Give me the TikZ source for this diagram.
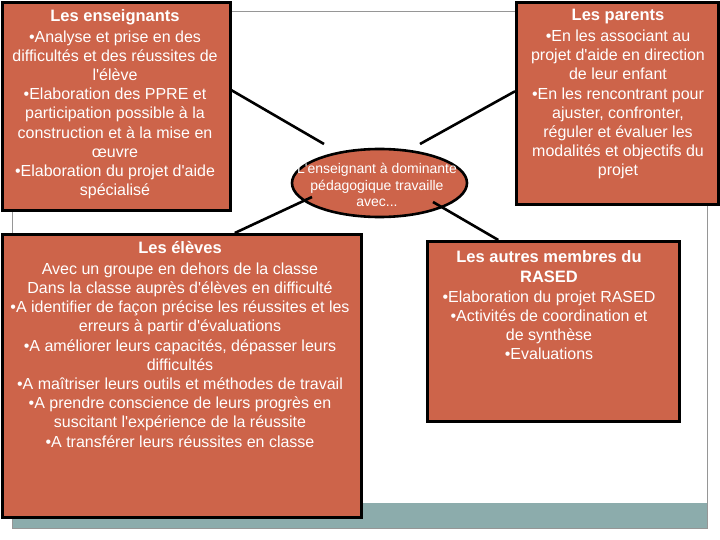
\documentclass[tikz,border=0pt]{standalone}
\usepackage{fontspec}
\setmainfont{Liberation Sans}
\usetikzlibrary{shapes.geometric}
\definecolor{boxred}{RGB}{205,100,74}
\definecolor{barteal}{RGB}{140,172,172}
\definecolor{framegray}{RGB}{150,150,150}
\newcommand{\boxtitle}[1]{{\fontsize{16.5}{19.2}\selectfont\bfseries #1}}
\begin{document}
\begin{tikzpicture}[x=1pt,y=-1pt,
  redbox/.style={draw=black, line width=2.6pt, fill=boxred, inner sep=0pt, anchor=north west},
  boxtext/.style={text=white, align=center, inner sep=0pt, anchor=north, font=\fontsize{16}{19.2}\selectfont},
  elltext/.style={text=white, align=center, inner sep=0pt, font=\fontsize{14}{16.5}\selectfont},
  link/.style={draw=black, line width=2.6pt}]
\useasboundingbox (0,0) rectangle (720,540);
\fill[white] (0,0) rectangle (720,540);
\fill[barteal] (12,503) rectangle (707,528);
\draw[framegray, line width=1pt] (12,12) rectangle (707,528);
% boxes
\node[redbox, minimum width=228pt, minimum height=208pt] (ens) at (1,1) {};
\node[redbox, minimum width=202pt, minimum height=202pt] (par) at (515,1) {};
\node[redbox, minimum width=359pt, minimum height=283pt] (eleves) at (1,233) {};
\node[redbox, minimum width=252pt, minimum height=180pt] (rased) at (426,240) {};
\node[ellipse, draw=black, line width=2.6pt, fill=boxred, inner sep=0pt, minimum width=175pt, minimum height=68pt] (ell) at (379.5,183) {};
% connectors
\coordinate (e1) at (324,144);
\coordinate (e2) at (420,144);
\coordinate (e3) at (312,197);
\coordinate (e4) at (433,202);
\draw[link] ([yshift=16pt]ens.east) -- (e1);
\draw[link] (e2) -- ([yshift=12pt]par.west);
\draw[link] (e3) -- ([xshift=53pt]eleves.north);
\draw[link] (e4) -- ([xshift=-55pt]rased.north);
% texts
\node[boxtext] (enstxt) at (115,9) {\boxtitle{Les enseignants}\\[1.8pt]
•Analyse et prise en des\\
difficultés et des réussites de\\
l\textquotesingle élève\\
•Elaboration des PPRE et\\
participation possible à la\\
construction et à la mise en\\
œuvre\\
•Elaboration du projet d\textquotesingle aide\\
spécialisé};
\node[boxtext] (partxt) at (618,9) {\boxtitle{Les parents}\\[1.8pt]
•En les associant au\\
projet d\textquotesingle aide en direction\\
de leur enfant\\
•En les rencontrant pour\\
ajuster, confronter,\\
réguler et évaluer les\\
modalités et objectifs du\\
projet};
\node[boxtext] (elevestxt) at (180,241) {\boxtitle{Les élèves}\\[1.8pt]
Avec un groupe en dehors de la classe\\
Dans la classe auprès d\textquotesingle élèves en difficulté\\
•A identifier de façon précise les réussites et les\\
erreurs à partir d\textquotesingle évaluations\\
•A améliorer leurs capacités, dépasser leurs\\
difficultés\\
•A maîtriser leurs outils et méthodes de travail\\
•A prendre conscience de leurs progrès en\\
suscitant l\textquotesingle expérience de la réussite\\
•A transférer leurs réussites en classe};
\node[boxtext] (rasedtxt) at (549,250) {\boxtitle{Les autres membres du}\\[0.8pt]
\boxtitle{RASED}\\[0.8pt]
•Elaboration du projet RASED\\
•Activités de coordination et\\
de synthèse\\
•Evaluations};
\node[elltext] (elltxt) at (377,185) {L\textquotesingle enseignant à dominante\\
pédagogique travaille\\
avec...};
\end{tikzpicture}
\end{document}
